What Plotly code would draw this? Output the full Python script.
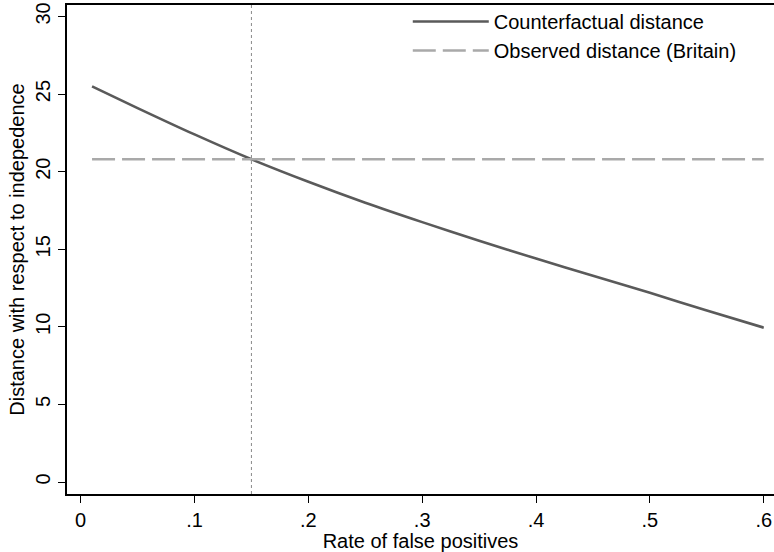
import plotly.graph_objects as go

# Data
fp_rate = [0.01, 0.05, 0.10, 0.15, 0.20, 0.25, 0.30, 0.35, 0.40, 0.45, 0.50, 0.55, 0.60]
counterfactual = [25.5, 24.1, 22.4, 20.8, 19.35, 18.0, 16.75, 15.55, 14.4, 13.3, 12.2, 11.05, 9.95]
observed_x = [0.01, 0.60]
observed_value = [20.8, 20.8]
cutoff_x = 0.15

x_ticks = [0, 0.1, 0.2, 0.3, 0.4, 0.5, 0.6]
x_ticklabels = ["0", ".1", ".2", ".3", ".4", ".5", ".6"]
y_ticks = [0, 5, 10, 15, 20, 25, 30]
y_ticklabels = ["0", "5", "10", "15", "20", "25", "30"]

FONT = "Liberation Sans, Arial, Helvetica, sans-serif"

fig = go.Figure()
fig.add_trace(go.Scatter(
    x=fp_rate, y=counterfactual, mode="lines", name="Counterfactual distance",
    line=dict(color="#5a5a5a", width=2.6, shape="spline", smoothing=0.8),
))
fig.add_trace(go.Scatter(
    x=observed_x, y=observed_value, mode="lines", name="Observed distance (Britain)",
    line=dict(color="#a9a9a9", width=2.4, dash="23px,7px"),
))
fig.add_shape(type="line", xref="x", yref="paper", x0=cutoff_x, x1=cutoff_x, y0=0, y1=1,
              line=dict(color="#8a8a8a", width=1, dash="dot"))

fig.update_layout(
    width=774, height=552,
    margin=dict(l=67, r=0, t=5, b=58, pad=0),
    paper_bgcolor="white", plot_bgcolor="white",
    font=dict(family=FONT, size=20, color="black"),
    showlegend=True,
    legend=dict(x=0.482, y=1.006, xanchor="left", yanchor="top",
                bgcolor="rgba(0,0,0,0)", borderwidth=0,
                font=dict(size=20), itemwidth=76, tracegroupgap=0),
    xaxis=dict(
        range=[-0.012, 0.609], tickmode="array", tickvals=x_ticks, ticktext=x_ticklabels,
        showgrid=False, zeroline=False, showline=True, linecolor="black", linewidth=2,
        ticks="outside", ticklen=7, tickwidth=1.2, tickcolor="black", mirror=True,
        automargin=False, tickfont=dict(size=20),
        title=dict(text="Rate of false positives", font=dict(size=20), standoff=2),
    ),
    yaxis=dict(
        range=[-0.77, 30.74], tickmode="array", tickvals=y_ticks, ticktext=y_ticklabels,
        showgrid=False, zeroline=False, showline=True, linecolor="black", linewidth=2,
        ticks="outside", ticklen=7, tickwidth=1.2, tickcolor="black", tickangle=-90,
        automargin=False, tickfont=dict(size=20),
        title=dict(text="Distance with respect to indepedence", font=dict(size=20), standoff=2),
    ),
)

fig.write_html("out.html", config={"displayModeBar": False},
               post_script="document.body.style.margin='0px';")
